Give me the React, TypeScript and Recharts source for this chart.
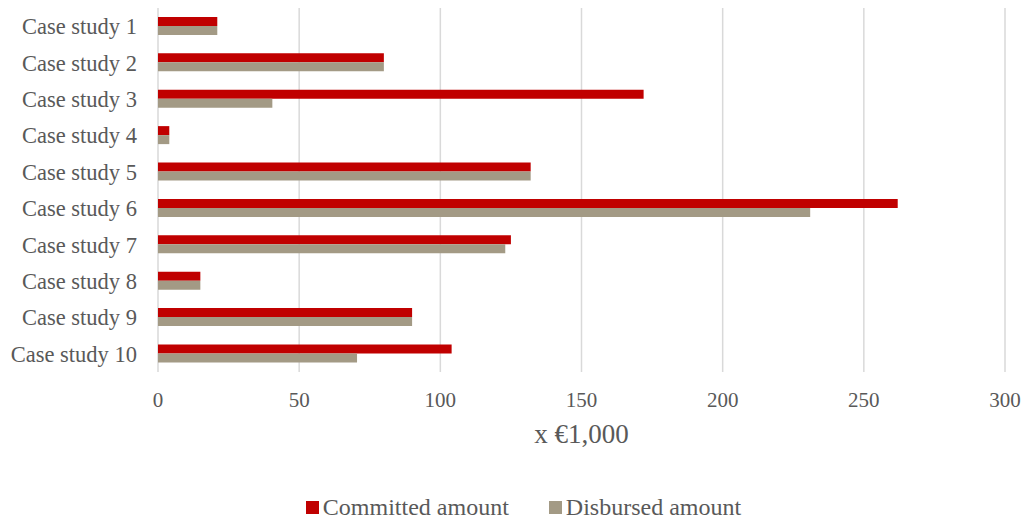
import React from 'react';
import {
  Bar,
  BarChart,
  CartesianGrid,
  Legend,
  XAxis,
  YAxis,
} from 'recharts';

const caseStudies = [
  'Case study 1',
  'Case study 2',
  'Case study 3',
  'Case study 4',
  'Case study 5',
  'Case study 6',
  'Case study 7',
  'Case study 8',
  'Case study 9',
  'Case study 10',
];
const committed = [21, 80, 172, 4, 132, 262, 125, 15, 90, 104];
const disbursed = [21, 80, 40.5, 4, 132, 231, 123, 15, 90, 70.5];
const xTicks = [0, 50, 100, 150, 200, 250, 300];

const RED = '#C00000';
const TAUPE = '#A39A85';
const TEXT = '#595959';
const FONT = '"Liberation Serif", "Times New Roman", serif';

const data = caseStudies.map((name, i) => ({
  name,
  committed: committed[i],
  disbursed: disbursed[i],
}));

const legendItems = [
  { label: 'Committed amount', color: RED },
  { label: 'Disbursed amount', color: TAUPE },
];

function AmountLegend() {
  return (
    <div
      style={{
        height: 28,
        display: 'flex',
        justifyContent: 'center',
        alignItems: 'center',
        gap: 40,
        paddingLeft: 42,
        fontFamily: FONT,
        fontSize: 24,
        color: TEXT,
      }}
    >
      {legendItems.map((it) => (
        <div key={it.label} style={{ display: 'flex', alignItems: 'center' }}>
          <span
            style={{
              display: 'inline-block',
              width: 13,
              height: 13,
              background: it.color,
              marginRight: 4,
            }}
          />
          {it.label}
        </div>
      ))}
    </div>
  );
}

export default function App() {
  return (
    <div style={{ width: 1025, height: 521, background: '#fff' }}>
      <style>{'body{margin:0}'}</style>
      <BarChart
        width={1025}
        height={521}
        data={data}
        layout="vertical"
        margin={{ top: 8, right: 20, bottom: 0, left: 0 }}
        barCategoryGap="24.5%"
        barGap={0}
      >
        <CartesianGrid horizontal={false} stroke="#D9D9D9" strokeWidth={1.5} />
        <XAxis
          type="number"
          domain={[0, 300]}
          ticks={xTicks}
          axisLine={false}
          tickLine={false}
          tickSize={0}
          tickMargin={20}
          height={121}
          tick={{ fill: TEXT, fontSize: 21, fontFamily: FONT }}
          label={{
            value: 'x €1,000',
            position: 'insideTop',
            offset: 52,
            fill: TEXT,
            fontSize: 27,
            fontFamily: FONT,
          }}
        />
        <YAxis
          type="category"
          dataKey="name"
          width={158}
          axisLine={false}
          tickLine={false}
          tickSize={0}
          tickMargin={21}
          interval={0}
          tick={{ fill: TEXT, fontSize: 22.5, fontFamily: FONT }}
        />
        <Legend verticalAlign="bottom" content={<AmountLegend />} />
        <Bar dataKey="committed" name="Committed amount" fill={RED} isAnimationActive={false} />
        <Bar dataKey="disbursed" name="Disbursed amount" fill={TAUPE} isAnimationActive={false} />
      </BarChart>
    </div>
  );
}
